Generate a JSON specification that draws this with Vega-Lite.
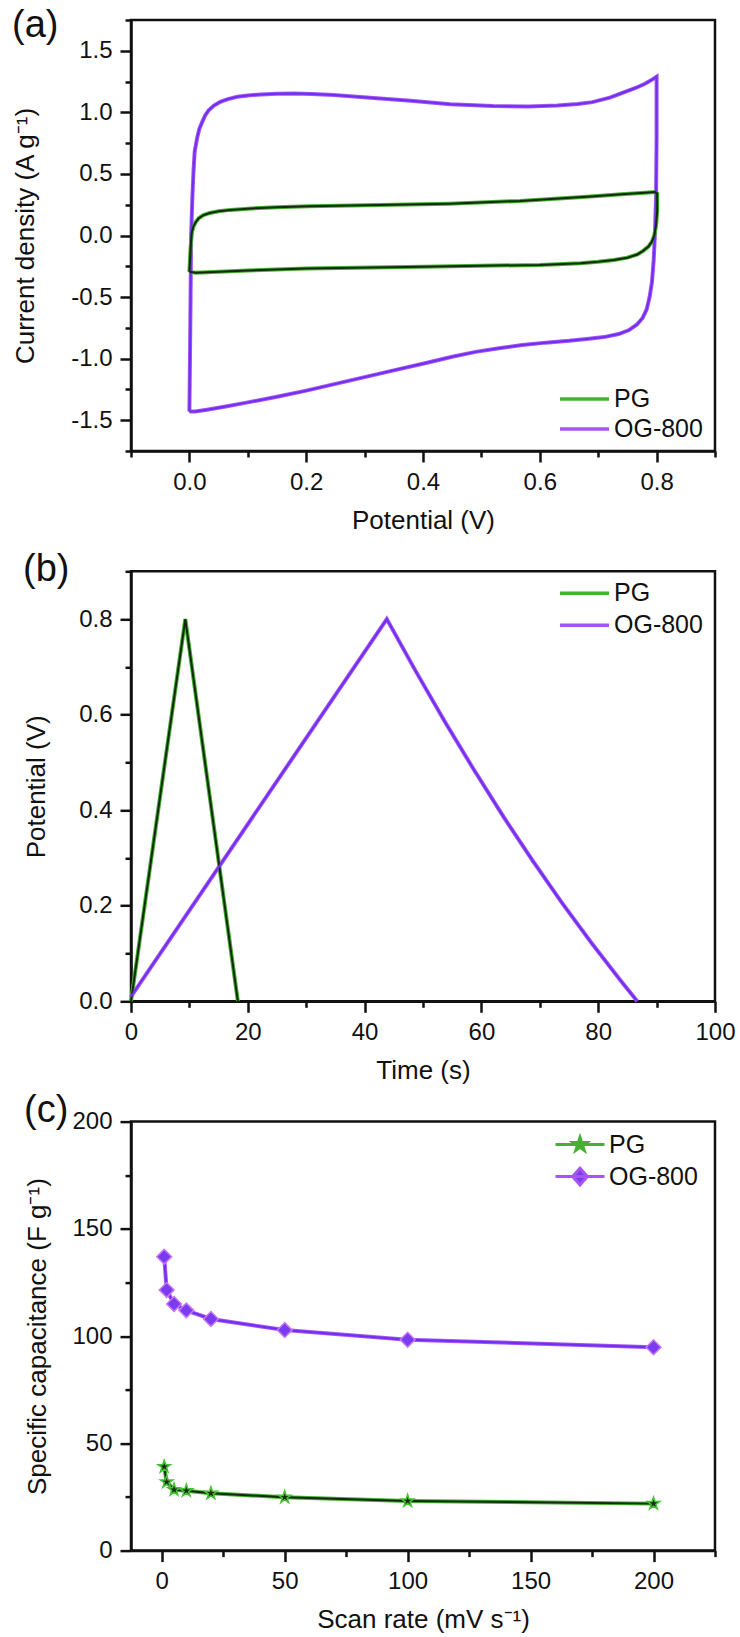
{
  "$schema": "https://vega.github.io/schema/vega-lite/v6.json",
  "background": "white",
  "padding": {"left": 10, "top": 5, "right": 5, "bottom": 5},
  "bounds": "flush",
  "spacing": 120.3,
  "resolve": {
    "scale": {"color": "independent", "stroke": "independent", "fill": "independent", "shape": "independent"},
    "legend": {"color": "independent", "stroke": "independent", "fill": "independent", "shape": "independent"}
  },
  "config": {
    "font": "Arial",
    "view": {"stroke": "#111111", "strokeWidth": 2.5},
    "axis": {"domainColor": "#111111", "domainWidth": 2.5, "tickColor": "#111111", "tickWidth": 2.5, "labelFont": "Arial", "labelFontSize": 24, "labelColor": "#111111", "labelPadding": 8, "titleFont": "Arial", "titleFontSize": 26, "titleFontWeight": "normal", "titleColor": "#111111", "grid": false, "labelOverlap": false, "labelFlush": false},
    "legend": {"labelFont": "Arial", "labelFontSize": 25, "labelColor": "#111111"},
    "title": {"font": "Arial", "fontSize": 38, "fontWeight": "normal", "color": "#111111"}
  },
  "vconcat": [
    {
      "width": 584, "height": 431,
      "title": {"text": "(a)", "anchor": "start", "frame": "bounds", "offset": -67, "baseline": "alphabetic"},
      "data": {"values": [
        {"s":"OG-800","k":1,"v":0.0,"j":-1.43},{"s":"OG-800","k":2,"v":0.001,"j":-1.0},{"s":"OG-800","k":3,"v":0.002,"j":-0.5},{"s":"OG-800","k":4,"v":0.003,"j":0.0},{"s":"OG-800","k":5,"v":0.005,"j":0.3},{"s":"OG-800","k":6,"v":0.007,"j":0.52},{"s":"OG-800","k":7,"v":0.009,"j":0.68},{"s":"OG-800","k":8,"v":0.013,"j":0.787},{"s":"OG-800","k":9,"v":0.017,"j":0.865},{"s":"OG-800","k":10,"v":0.022,"j":0.923},{"s":"OG-800","k":11,"v":0.027,"j":0.975},{"s":"OG-800","k":12,"v":0.033,"j":1.017},{"s":"OG-800","k":13,"v":0.042,"j":1.055},{"s":"OG-800","k":14,"v":0.053,"j":1.086},{"s":"OG-800","k":15,"v":0.066,"j":1.108},{"s":"OG-800","k":16,"v":0.082,"j":1.126},{"s":"OG-800","k":17,"v":0.1,"j":1.137},{"s":"OG-800","k":18,"v":0.122,"j":1.145},{"s":"OG-800","k":19,"v":0.15,"j":1.151},{"s":"OG-800","k":20,"v":0.179,"j":1.153},{"s":"OG-800","k":21,"v":0.21,"j":1.149},{"s":"OG-800","k":22,"v":0.247,"j":1.14},{"s":"OG-800","k":23,"v":0.304,"j":1.121},{"s":"OG-800","k":24,"v":0.379,"j":1.094},{"s":"OG-800","k":25,"v":0.447,"j":1.066},{"s":"OG-800","k":26,"v":0.52,"j":1.052},{"s":"OG-800","k":27,"v":0.58,"j":1.048},{"s":"OG-800","k":28,"v":0.63,"j":1.055},{"s":"OG-800","k":29,"v":0.665,"j":1.068},{"s":"OG-800","k":30,"v":0.69,"j":1.083},{"s":"OG-800","k":31,"v":0.72,"j":1.12},{"s":"OG-800","k":32,"v":0.745,"j":1.165},{"s":"OG-800","k":33,"v":0.765,"j":1.2},{"s":"OG-800","k":34,"v":0.78,"j":1.232},{"s":"OG-800","k":35,"v":0.793,"j":1.268},{"s":"OG-800","k":36,"v":0.8,"j":1.29},{"s":"OG-800","k":37,"v":0.8,"j":0.8},{"s":"OG-800","k":38,"v":0.799,"j":0.3},{"s":"OG-800","k":39,"v":0.797,"j":0.0},{"s":"OG-800","k":40,"v":0.795,"j":-0.2},{"s":"OG-800","k":41,"v":0.792,"j":-0.38},{"s":"OG-800","k":42,"v":0.788,"j":-0.5},{"s":"OG-800","k":43,"v":0.783,"j":-0.6},{"s":"OG-800","k":44,"v":0.776,"j":-0.67},{"s":"OG-800","k":45,"v":0.766,"j":-0.725},{"s":"OG-800","k":46,"v":0.752,"j":-0.77},{"s":"OG-800","k":47,"v":0.735,"j":-0.8},{"s":"OG-800","k":48,"v":0.71,"j":-0.825},{"s":"OG-800","k":49,"v":0.68,"j":-0.84},{"s":"OG-800","k":50,"v":0.65,"j":-0.855},{"s":"OG-800","k":51,"v":0.61,"j":-0.87},{"s":"OG-800","k":52,"v":0.57,"j":-0.89},{"s":"OG-800","k":53,"v":0.53,"j":-0.915},{"s":"OG-800","k":54,"v":0.49,"j":-0.945},{"s":"OG-800","k":55,"v":0.45,"j":-0.985},{"s":"OG-800","k":56,"v":0.405,"j":-1.035},{"s":"OG-800","k":57,"v":0.35,"j":-1.095},{"s":"OG-800","k":58,"v":0.3,"j":-1.15},{"s":"OG-800","k":59,"v":0.25,"j":-1.205},{"s":"OG-800","k":60,"v":0.2,"j":-1.26},{"s":"OG-800","k":61,"v":0.15,"j":-1.31},{"s":"OG-800","k":62,"v":0.1,"j":-1.355},{"s":"OG-800","k":63,"v":0.06,"j":-1.39},{"s":"OG-800","k":64,"v":0.03,"j":-1.415},{"s":"OG-800","k":65,"v":0.01,"j":-1.43},{"s":"OG-800","k":66,"v":0.0,"j":-1.43},
        {"s":"PG","k":1,"v":0.0,"j":-0.295},{"s":"PG","k":2,"v":0.002,"j":-0.1},{"s":"PG","k":3,"v":0.004,"j":0.02},{"s":"PG","k":4,"v":0.007,"j":0.075},{"s":"PG","k":5,"v":0.011,"j":0.11},{"s":"PG","k":6,"v":0.016,"j":0.14},{"s":"PG","k":7,"v":0.024,"j":0.165},{"s":"PG","k":8,"v":0.035,"j":0.183},{"s":"PG","k":9,"v":0.05,"j":0.197},{"s":"PG","k":10,"v":0.07,"j":0.208},{"s":"PG","k":11,"v":0.1,"j":0.218},{"s":"PG","k":12,"v":0.15,"j":0.23},{"s":"PG","k":13,"v":0.204,"j":0.238},{"s":"PG","k":14,"v":0.325,"j":0.247},{"s":"PG","k":15,"v":0.445,"j":0.258},{"s":"PG","k":16,"v":0.566,"j":0.281},{"s":"PG","k":17,"v":0.687,"j":0.317},{"s":"PG","k":18,"v":0.74,"j":0.334},{"s":"PG","k":19,"v":0.78,"j":0.347},{"s":"PG","k":20,"v":0.797,"j":0.353},{"s":"PG","k":21,"v":0.801,"j":0.34},{"s":"PG","k":22,"v":0.801,"j":0.2},{"s":"PG","k":23,"v":0.799,"j":0.08},{"s":"PG","k":24,"v":0.796,"j":0.0},{"s":"PG","k":25,"v":0.792,"j":-0.05},{"s":"PG","k":26,"v":0.786,"j":-0.09},{"s":"PG","k":27,"v":0.777,"j":-0.125},{"s":"PG","k":28,"v":0.767,"j":-0.154},{"s":"PG","k":29,"v":0.75,"j":-0.18},{"s":"PG","k":30,"v":0.727,"j":-0.199},{"s":"PG","k":31,"v":0.7,"j":-0.213},{"s":"PG","k":32,"v":0.67,"j":-0.225},{"s":"PG","k":33,"v":0.6,"j":-0.239},{"s":"PG","k":34,"v":0.4,"j":-0.253},{"s":"PG","k":35,"v":0.2,"j":-0.267},{"s":"PG","k":36,"v":0.1,"j":-0.285},{"s":"PG","k":37,"v":0.011,"j":-0.303},{"s":"PG","k":38,"v":0.0,"j":-0.295}
      ]},
      "encoding": {
        "x": {"field": "v", "type": "quantitative", "scale": {"domain": [-0.1, 0.9], "nice": false, "zero": false},
          "axis": {"values": [-0.1,0,0.1,0.2,0.3,0.4,0.5,0.6,0.7,0.8,0.9], "title": "Potential (V)", "titleY": 56, "titleBaseline": "top",
            "tickSize": {"condition": {"test": "round(datum.value*10)%2==0", "value": 11}, "value": 6},
            "labelExpr": "round(datum.value*10)%2==0 ? format(datum.value,'.1f') : ''"}},
        "y": {"field": "j", "type": "quantitative", "scale": {"domain": [-1.75, 1.75], "nice": false, "zero": false},
          "axis": {"values": [-1.75,-1.5,-1.25,-1,-0.75,-0.5,-0.25,0,0.25,0.5,0.75,1,1.25,1.5,1.75], "title": "Current density (A g⁻¹)", "titleX": -93, "titleY": 215.5,
            "tickSize": {"condition": {"test": "round(datum.value*4)%2==0", "value": 11}, "value": 6},
            "labelExpr": "round(datum.value*4)%2==0 ? (datum.value<0?'-':'') + format(abs(datum.value),'.1f') : ''"}},
        "order": {"field": "k", "type": "quantitative"}
      },
      "layer": [
        {"mark": {"type": "line", "strokeWidth": 4},
         "encoding": {"stroke": {"field": "s", "type": "nominal", "scale": {"domain": ["PG", "OG-800"], "range": ["#46b032", "#a656f0"]},
           "legend": {"orient": "none", "legendX": 427, "legendY": 364, "title": null, "symbolType": "stroke", "symbolSize": 2400, "symbolStrokeWidth": 3.5, "labelFontSize": 25, "labelOffset": 3, "clipHeight": 30, "rowPadding": 0, "padding": 0}}}},
        {"mark": {"type": "line", "strokeWidth": 2},
         "encoding": {"color": {"field": "s", "type": "nominal", "scale": {"domain": ["PG", "OG-800"], "range": ["#102a0a", "#6f2ff2"]}, "legend": null}}}
      ]
    },
    {
      "width": 584, "height": 430,
      "title": {"text": "(b)", "anchor": "start", "frame": "bounds", "offset": -60, "baseline": "alphabetic"},
      "data": {"values": [
        {"s":"PG","k":1,"t":0,"p":0},{"s":"PG","k":2,"t":9.3,"p":0.8},{"s":"PG","k":3,"t":18.3,"p":0},
        {"s":"OG-800","k":1,"t":0,"p":0.01},{"s":"OG-800","k":2,"t":43.8,"p":0.8},{"s":"OG-800","k":3,"t":48.8,"p":0.69},{"s":"OG-800","k":4,"t":53.8,"p":0.584},{"s":"OG-800","k":5,"t":58.8,"p":0.483},{"s":"OG-800","k":6,"t":63.8,"p":0.386},{"s":"OG-800","k":7,"t":68.8,"p":0.294},{"s":"OG-800","k":8,"t":73.8,"p":0.206},{"s":"OG-800","k":9,"t":78.8,"p":0.123},{"s":"OG-800","k":10,"t":83.8,"p":0.044},{"s":"OG-800","k":11,"t":86.7,"p":0}
      ]},
      "encoding": {
        "x": {"field": "t", "type": "quantitative", "scale": {"domain": [0, 100], "nice": false},
          "axis": {"values": [0,10,20,30,40,50,60,70,80,90,100], "title": "Time (s)", "titleY": 56, "titleBaseline": "top",
            "tickSize": {"condition": {"test": "datum.value%20==0", "value": 11}, "value": 6},
            "labelExpr": "datum.value%20==0 ? format(datum.value,'d') : ''"}},
        "y": {"field": "p", "type": "quantitative", "scale": {"domain": [0, 0.9], "nice": false},
          "axis": {"values": [0,0.1,0.2,0.3,0.4,0.5,0.6,0.7,0.8,0.9], "title": "Potential (V)", "titleX": -82, "titleY": 215,
            "tickSize": {"condition": {"test": "round(datum.value*10)%2==0", "value": 11}, "value": 6},
            "labelExpr": "round(datum.value*10)%2==0 ? format(datum.value,'.1f') : ''"}},
        "order": {"field": "k", "type": "quantitative"}
      },
      "layer": [
        {"mark": {"type": "line", "strokeWidth": 4},
         "encoding": {"stroke": {"field": "s", "type": "nominal", "scale": {"domain": ["PG", "OG-800"], "range": ["#46b032", "#a656f0"]},
           "legend": {"orient": "none", "legendX": 427, "legendY": 6, "title": null, "symbolType": "stroke", "symbolSize": 2400, "symbolStrokeWidth": 3.5, "labelFontSize": 25, "labelOffset": 3, "clipHeight": 32, "rowPadding": 0, "padding": 0}}}},
        {"mark": {"type": "line", "strokeWidth": 2},
         "encoding": {"color": {"field": "s", "type": "nominal", "scale": {"domain": ["PG", "OG-800"], "range": ["#102a0a", "#6f2ff2"]}, "legend": null}}}
      ]
    },
    {
      "width": 584, "height": 429,
      "title": {"text": "(c)", "anchor": "start", "frame": "bounds", "offset": -50, "baseline": "alphabetic"},
      "data": {"values": [
        {"s":"PG","r":1,"c":39.1},{"s":"PG","r":2,"c":32},{"s":"PG","r":5,"c":28.4},{"s":"PG","r":10,"c":27.9},{"s":"PG","r":20,"c":26.7},{"s":"PG","r":50,"c":24.9},{"s":"PG","r":100,"c":23.1},{"s":"PG","r":200,"c":21.9},
        {"s":"OG-800","r":1,"c":137},{"s":"OG-800","r":2,"c":121.5},{"s":"OG-800","r":5,"c":115},{"s":"OG-800","r":10,"c":112},{"s":"OG-800","r":20,"c":108},{"s":"OG-800","r":50,"c":102.8},{"s":"OG-800","r":100,"c":98.3},{"s":"OG-800","r":200,"c":94.8}
      ]},
      "encoding": {
        "x": {"field": "r", "type": "quantitative", "scale": {"domain": [-12.5, 225], "nice": false, "zero": false},
          "axis": {"values": [0,25,50,75,100,125,150,175,200,225], "title": "Scan rate (mV s⁻¹)", "titleY": 56, "titleBaseline": "top",
            "tickSize": {"condition": {"test": "datum.value%50==0", "value": 11}, "value": 6},
            "labelExpr": "datum.value%50==0 ? format(datum.value,'d') : ''"}},
        "y": {"field": "c", "type": "quantitative", "scale": {"domain": [0, 200], "nice": false},
          "axis": {"values": [0,25,50,75,100,125,150,175,200], "title": "Specific capacitance (F g⁻¹)", "titleX": -81, "titleY": 214.5,
            "tickSize": {"condition": {"test": "datum.value%50==0", "value": 11}, "value": 6},
            "labelExpr": "datum.value%50==0 ? format(datum.value,'d') : ''"}}
      },
      "layer": [
        {"mark": {"type": "line", "strokeWidth": 4},
         "encoding": {"stroke": {"field": "s", "type": "nominal", "scale": {"domain": ["PG", "OG-800"], "range": ["#46b032", "#a656f0"]},
           "legend": {"orient": "none", "legendX": 423, "legendY": 7, "title": null, "symbolSize": 2400, "symbolStrokeWidth": 3, "labelFontSize": 25, "labelOffset": 3, "clipHeight": 32, "rowPadding": 0, "padding": 0}}}},
        {"mark": {"type": "line", "strokeWidth": 2},
         "encoding": {"color": {"field": "s", "type": "nominal", "scale": {"domain": ["PG", "OG-800"], "range": ["#102a0a", "#6f2ff2"]}, "legend": null}}},
        {"transform": [{"filter": "datum.s == 'PG'"}],
         "mark": {"type": "point", "shape": "M0,-1L0.2245,-0.309L0.951,-0.309L0.363,0.118L0.588,0.809L0,0.382L-0.588,0.809L-0.363,0.118L-0.951,-0.309L-0.2245,-0.309Z", "filled": true, "fill": "#15300e", "stroke": "#48c038", "strokeWidth": 1.5, "size": 170, "opacity": 1}},
        {"transform": [{"filter": "datum.s == 'OG-800'"}],
         "mark": {"type": "point", "shape": "diamond", "filled": true, "fill": "#7a3cf0", "stroke": "#c878f0", "strokeWidth": 1.5, "size": 220, "opacity": 1}},
        {"transform": [{"filter": "false"}],
         "mark": {"type": "point", "filled": true, "opacity": 1},
         "encoding": {
           "shape": {"field": "s", "type": "nominal", "scale": {"domain": ["PG", "OG-800"], "range": ["M-1,0H1M0,-0.29L0.065,-0.09L0.276,-0.09L0.105,0.034L0.171,0.235L0,0.111L-0.171,0.235L-0.105,0.034L-0.276,-0.09L-0.065,-0.09Z", "M-1,0H1M0,-0.34L0.3,0L0,0.34L-0.3,0Z"]},
             "legend": {"orient": "none", "legendX": 423, "legendY": 7, "title": null, "symbolSize": 2400, "symbolStrokeWidth": 3, "labelFontSize": 25, "labelOffset": 3, "clipHeight": 32, "rowPadding": 0, "padding": 0}},
           "stroke": {"field": "s", "type": "nominal",
             "legend": {"orient": "none", "legendX": 423, "legendY": 7, "title": null, "symbolSize": 2400, "symbolStrokeWidth": 3, "labelFontSize": 25, "labelOffset": 3, "clipHeight": 32, "rowPadding": 0, "padding": 0}},
           "fill": {"field": "s", "type": "nominal", "scale": {"domain": ["PG", "OG-800"], "range": ["#15300e", "#7a3cf0"]},
             "legend": {"orient": "none", "legendX": 423, "legendY": 7, "title": null, "symbolSize": 2400, "symbolStrokeWidth": 3, "labelFontSize": 25, "labelOffset": 3, "clipHeight": 32, "rowPadding": 0, "padding": 0}}
         }}
      ]
    }
  ]
}
